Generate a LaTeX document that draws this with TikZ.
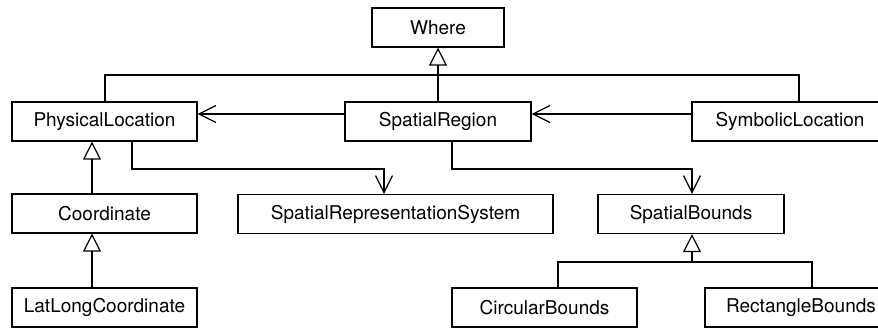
\documentclass[tikz,border=0pt]{standalone}
\usepackage{fontspec}
\setmainfont{TeX Gyre Heros}
\usetikzlibrary{arrows.meta}
\tikzset{
  box/.style={draw=black, line width=1.2pt, fill=white, inner sep=0pt, minimum height=39pt,
    font=\fontsize{19}{22}\selectfont},
  link/.style={draw=black, line width=1.2pt},
  genarrow/.style={link, -{Triangle[open, length=18pt, width=18pt, line width=1.2pt]}},
  assocarrow/.style={link, -{Straight Barb[length=17pt, width=17pt, line width=1.2pt]}}
}
\begin{document}
\begin{tikzpicture}[x=1pt, y=-1pt]
\useasboundingbox (0,0) rectangle (878,327);
% classes
\node[box, minimum width=132pt] (where) at (438,27.5) {Where};
\node[box, minimum width=185pt] (pl) at (104.5,121.5) {PhysicalLocation};
\node[box, minimum width=186pt] (sr) at (438,121.5) {SpatialRegion};
\node[box, minimum width=196pt] (sl) at (790,121.5) {SymbolicLocation};
\node[box, minimum width=185pt] (coord) at (104.5,213.5) {Coordinate};
\node[box, minimum width=315pt] (srs) at (395.5,214) {SpatialRepresentationSystem};
\node[box, minimum width=186pt] (sb) at (691,214) {SpatialBounds};
\node[box, minimum width=185pt] (ll) at (104.5,307.5) {LatLongCoordinate};
\node[box, minimum width=185pt] (cb) at (544.5,307.5) {CircularBounds};
\node[box, minimum width=192pt] (rb) at (801,307.5) {RectangleBounds};
% junction coordinates
\coordinate (jw) at (438,75);
\coordinate (j1) at (105,75);
\coordinate (j3) at (799,75);
\coordinate (ya) at (0,114);
\coordinate (k1) at (132,169);
\coordinate (k2) at (384,169);
\coordinate (m1) at (452,169);
\coordinate (m2) at (692,169);
\coordinate (c1) at (92,0);
\coordinate (n0) at (692,262);
\coordinate (n1) at (558,262);
\coordinate (n2) at (812,262);
% generalization to Where
\draw[link] (j1 |- pl.north) -- (j1) -- (j3) -- (j3 |- sl.north);
\draw[link] (sr.north) -- (jw);
\draw[genarrow] (jw) -- (where.south);
% associations
\draw[assocarrow] (sr.west |- ya) -- (pl.east |- ya);
\draw[assocarrow] (sl.west |- ya) -- (sr.east |- ya);
\draw[assocarrow] (k1 |- pl.south) -- (k1) -- (k2) -- (k2 |- srs.north);
\draw[assocarrow] (m1 |- sr.south) -- (m1) -- (m2) -- (m2 |- sb.north);
% generalizations on the left
\draw[genarrow] (c1 |- coord.north) -- (c1 |- pl.south);
\draw[genarrow] (c1 |- ll.north) -- (c1 |- coord.south);
% SpatialBounds subclasses
\draw[link] (n1 |- cb.north) -- (n1) -- (n2) -- (n2 |- rb.north);
\draw[genarrow] (n0) -- (n0 |- sb.south);
\end{tikzpicture}
\end{document}
